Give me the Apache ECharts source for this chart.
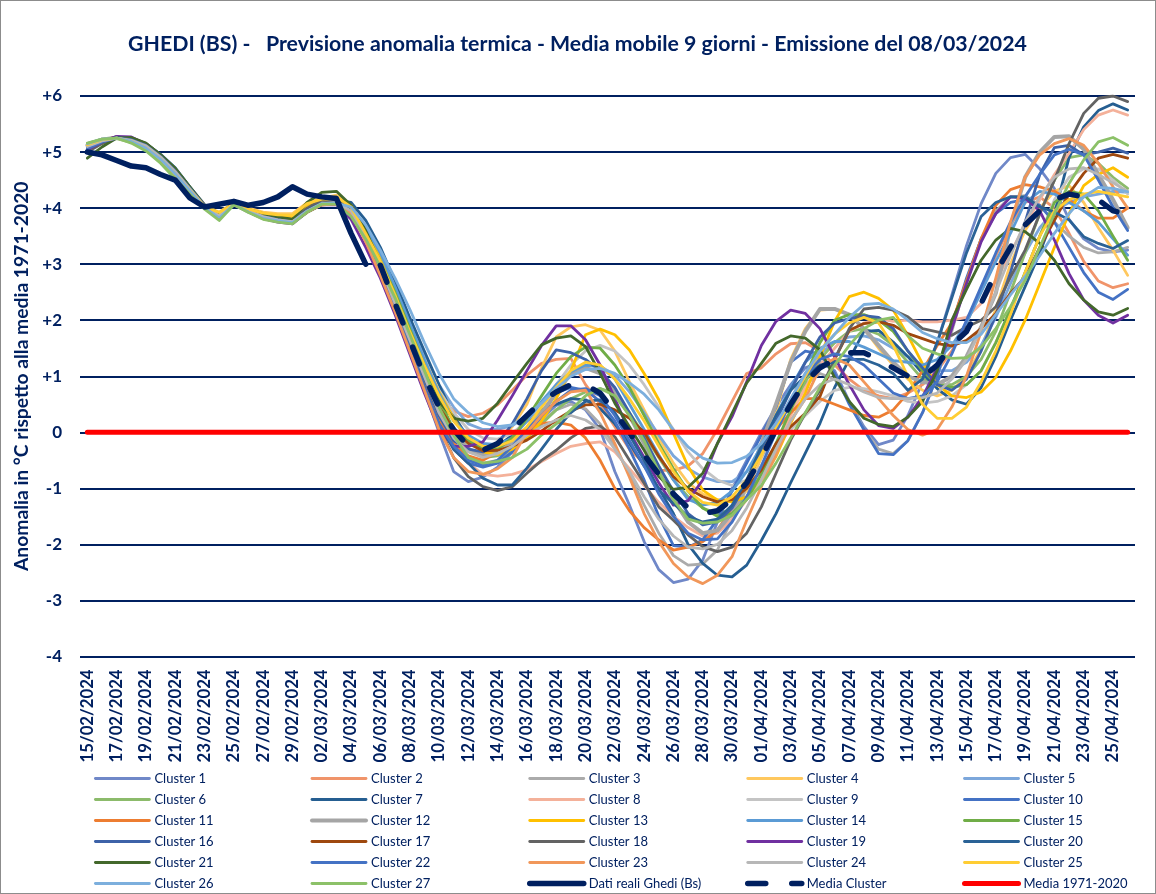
<!DOCTYPE html>
<html><head><meta charset="utf-8">
<style>html,body{margin:0;padding:0;background:#fff}#c{position:absolute;left:0;top:0;width:1156px;height:894px}
#b{position:absolute;left:0;top:0;width:1156px;height:894px;box-sizing:border-box;border:1px solid #8c8c8c;pointer-events:none}</style>
<script src="https://cdn.jsdelivr.net/npm/echarts@6/dist/echarts.min.js"></script>
</head><body><div id="c"></div><div id="b"></div>
<script>
const categories=["15/02/2024","16/02/2024","17/02/2024","18/02/2024","19/02/2024","20/02/2024","21/02/2024","22/02/2024","23/02/2024","24/02/2024","25/02/2024","26/02/2024","27/02/2024","28/02/2024","29/02/2024","01/03/2024","02/03/2024","03/03/2024","04/03/2024","05/03/2024","06/03/2024","07/03/2024","08/03/2024","09/03/2024","10/03/2024","11/03/2024","12/03/2024","13/03/2024","14/03/2024","15/03/2024","16/03/2024","17/03/2024","18/03/2024","19/03/2024","20/03/2024","21/03/2024","22/03/2024","23/03/2024","24/03/2024","25/03/2024","26/03/2024","27/03/2024","28/03/2024","29/03/2024","30/03/2024","31/03/2024","01/04/2024","02/04/2024","03/04/2024","04/04/2024","05/04/2024","06/04/2024","07/04/2024","08/04/2024","09/04/2024","10/04/2024","11/04/2024","12/04/2024","13/04/2024","14/04/2024","15/04/2024","16/04/2024","17/04/2024","18/04/2024","19/04/2024","20/04/2024","21/04/2024","22/04/2024","23/04/2024","24/04/2024","25/04/2024","26/04/2024"];
const cluster1=[5.10,5.22,5.26,5.22,5.12,4.92,4.66,4.34,4.04,3.86,4.07,3.95,3.84,3.79,3.75,3.94,4.07,4.09,
3.92,3.45,2.85,2.2,1.5,0.75,0.0,-0.7,
-0.88,-0.8,-0.62,-0.35,-0.05,0.25,0.48,0.55,0.4,0.05,
-0.7,-1.3,-1.95,-2.45,-2.68,-2.62,-2.28,-1.6,-1.0,-0.5,
0.0,0.45,0.85,1.15,1.25,1.1,0.55,0.1,-0.22,-0.14,
0.3,0.9,1.6,2.45,3.33,4.08,4.62,4.9,4.96,4.7,
4.35,3.8,3.45,3.28,3.22,3.25];
const cluster2=[5.12,5.2,5.25,5.2,5.1,4.9,4.63,4.33,4.03,3.85,4.06,3.94,3.83,3.78,3.75,3.93,4.06,4.08,
3.98,3.55,3.0,2.4,1.75,1.15,0.65,0.38,
0.28,0.34,0.49,0.75,1.02,1.23,1.3,1.32,0.85,0.5,
0.1,-0.3,-0.55,-0.68,-0.68,-0.6,-0.38,0.05,0.55,1.05,
1.15,1.4,1.58,1.6,1.45,1.2,0.95,0.75,0.65,0.6,
0.7,0.85,1.1,1.45,1.95,2.55,3.15,3.7,4.1,4.2,
4.0,3.55,3.05,2.7,2.58,2.65];
const cluster3=[5.08,5.2,5.27,5.23,5.13,4.93,4.68,4.36,4.05,3.88,4.07,3.96,3.85,3.8,3.76,3.95,4.08,4.1,
3.95,3.5,2.9,2.25,1.6,0.95,0.35,-0.2,
-0.45,-0.55,-0.5,-0.3,-0.05,0.2,0.4,0.5,0.42,0.15,
-0.25,-0.75,-1.3,-1.8,-2.2,-2.37,-2.35,-2.1,-1.55,-1.0,
-0.45,0.05,0.5,0.85,1.05,0.95,0.55,0.05,-0.3,-0.38,
-0.15,0.35,1.0,1.8,2.7,3.45,3.95,4.2,4.22,4.05,
3.75,3.5,3.3,3.2,3.22,3.3];
const cluster4=[5.14,5.22,5.26,5.18,5.06,4.86,4.6,4.32,4.03,3.93,4.09,4.0,3.93,3.9,3.9,4.1,4.18,4.23,
4.07,3.6,3.1,2.5,1.85,1.25,0.7,0.2,
-0.1,-0.3,-0.2,0.1,0.5,1.15,1.7,1.88,1.92,1.82,
1.45,0.9,0.4,-0.1,-0.55,-0.9,-1.1,-1.2,-1.2,-1.05,
-0.45,0.35,1.3,1.85,2.18,2.2,2.1,1.85,1.5,1.2,
0.95,0.75,0.65,0.75,1.0,1.5,2.2,3.0,3.6,4.0,
4.3,4.4,4.1,3.65,3.25,2.8];
const cluster5=[5.13,5.21,5.25,5.19,5.08,4.88,4.62,4.31,4.01,3.83,4.07,3.94,3.82,3.77,3.74,3.95,4.08,4.09,
3.98,3.6,3.1,2.55,1.95,1.35,0.85,0.45,
0.15,0.05,0.05,0.12,0.28,0.52,0.8,1.05,1.18,1.18,
1.02,0.72,0.35,-0.05,-0.42,-0.65,-0.8,-0.88,-0.88,-0.7,
-0.35,0.1,0.6,1.05,1.4,1.6,1.7,1.72,1.65,1.5,
1.35,1.2,1.1,1.1,1.25,1.55,2.05,2.65,3.2,3.65,
3.95,4.1,4.2,4.25,4.3,4.28];
const cluster6=[5.15,5.23,5.24,5.17,5.04,4.83,4.56,4.28,4.0,3.8,4.06,3.93,3.81,3.76,3.73,3.92,4.06,4.07,
3.9,3.5,3.0,2.4,1.8,1.15,0.5,0.0,
-0.3,-0.45,-0.42,-0.3,-0.1,0.15,0.4,0.6,0.72,0.78,
0.7,0.35,-0.05,-0.45,-0.85,-1.15,-1.35,-1.45,-1.38,-1.15,
-0.75,-0.25,0.35,0.9,1.3,1.6,1.8,1.85,1.75,1.55,
1.25,0.95,0.85,0.85,1.0,1.3,1.8,2.5,3.2,3.9,
4.5,4.9,4.95,4.8,4.55,4.35];
const cluster7=[5.06,5.18,5.26,5.24,5.15,4.96,4.72,4.38,4.06,3.9,4.08,3.97,3.87,3.82,3.78,3.97,4.1,4.14,
4.1,3.78,3.3,2.7,2.05,1.45,0.85,0.3,
-0.1,-0.3,-0.25,-0.05,0.2,0.4,0.5,0.6,0.58,0.42,
0.15,-0.2,-0.6,-1.0,-1.45,-2.0,-2.34,-2.55,-2.58,-2.37,
-1.93,-1.45,-0.9,-0.37,0.16,0.8,1.3,1.8,1.82,1.61,
1.35,1.05,0.78,0.58,0.5,0.8,1.35,2.0,2.6,3.2,
3.9,4.9,5.45,5.74,5.86,5.75];
const cluster8=[5.11,5.21,5.26,5.21,5.1,4.9,4.64,4.33,4.03,3.87,4.07,3.95,3.85,3.79,3.76,3.94,4.07,4.09,
3.98,3.5,2.95,2.3,1.65,1.0,0.3,-0.3,
-0.55,-0.75,-0.78,-0.75,-0.67,-0.52,-0.38,-0.25,-0.2,-0.17,
-0.35,-0.65,-0.95,-1.25,-1.5,-1.7,-1.85,-1.8,-1.55,-1.2,
-0.85,-0.3,0.3,0.8,1.2,1.5,1.8,1.95,2.03,1.98,
2.0,1.97,1.97,2.0,2.05,2.3,2.7,3.2,3.7,4.15,
4.6,4.98,5.4,5.66,5.75,5.66];
const cluster9=[5.14,5.23,5.25,5.2,5.09,4.89,4.63,4.32,4.02,3.84,4.07,3.96,3.86,3.81,3.77,3.96,4.09,4.12,
4.0,3.6,3.1,2.5,1.9,1.3,0.75,0.35,
0.05,-0.1,-0.12,-0.02,0.2,0.5,0.85,1.2,1.45,1.55,
1.45,1.2,0.85,0.45,0.05,-0.35,-0.65,-0.85,-0.95,-0.85,
-0.6,-0.25,0.05,0.3,0.55,0.75,0.8,0.78,0.72,0.65,
0.55,0.52,0.55,0.65,0.85,1.1,1.6,2.2,2.85,3.5,
4.15,4.55,4.7,4.7,4.5,4.25];
const cluster10=[5.09,5.2,5.26,5.22,5.11,4.91,4.65,4.34,4.04,3.85,4.07,3.95,3.84,3.78,3.75,3.94,4.07,4.08,
3.95,3.5,2.9,2.25,1.55,0.85,0.2,-0.3,
-0.55,-0.62,-0.55,-0.35,-0.05,0.3,0.7,0.8,0.75,0.55,
0.2,-0.3,-0.85,-1.5,-2.02,-2.05,-1.92,-1.55,-1.05,-0.55,
-0.05,0.45,1.25,1.45,1.4,1.05,0.5,0.05,-0.38,-0.4,
-0.15,0.35,1.0,1.9,2.75,3.45,3.9,4.1,4.15,4.05,
3.75,3.3,2.85,2.5,2.37,2.55];
const cluster11=[5.1,5.19,5.25,5.21,5.11,4.9,4.65,4.33,4.03,3.86,4.07,3.94,3.83,3.78,3.74,3.93,4.07,4.08,
3.95,3.45,2.85,2.2,1.55,0.9,0.2,-0.2,
-0.42,-0.5,-0.35,-0.15,0.05,0.16,0.18,0.13,-0.1,-0.5,
-1.0,-1.4,-1.7,-1.92,-2.1,-2.05,-1.95,-1.75,-1.35,-0.9,
-0.35,0.05,0.35,0.6,0.6,0.5,0.4,0.3,0.27,0.4,
0.7,1.1,1.55,1.95,2.7,3.45,4.05,4.33,4.42,4.38,
4.3,4.15,3.95,3.82,3.82,4.0];
const cluster12=[5.12,5.22,5.26,5.22,5.12,4.92,4.67,4.35,4.05,3.87,4.08,3.96,3.86,3.8,3.77,3.96,4.09,4.12,
4.0,3.55,3.0,2.35,1.7,1.05,0.4,0.0,
-0.3,-0.4,-0.35,-0.2,0.05,0.35,0.7,1.05,1.15,1.05,
0.75,0.3,-0.2,-0.7,-1.2,-1.6,-1.8,-1.75,-1.45,-0.95,
-0.2,0.5,1.25,1.8,2.2,2.2,2.1,1.85,1.55,1.25,
1.0,0.9,0.85,1.0,1.35,1.88,2.48,3.67,4.55,5.0,
5.27,5.28,5.05,4.6,4.15,3.65];
const cluster13=[5.13,5.21,5.25,5.19,5.07,4.87,4.61,4.31,4.03,3.9,4.08,3.97,3.89,3.86,3.85,4.05,4.15,4.18,
4.05,3.62,3.12,2.55,1.9,1.28,0.72,0.25,
-0.15,-0.35,-0.4,-0.3,-0.1,0.2,0.6,1.1,1.74,1.84,
1.74,1.47,1.05,0.58,-0.02,-0.61,-1.03,-1.21,-1.24,-1.15,
-0.85,-0.43,0.16,0.7,1.35,1.98,2.42,2.5,2.39,2.18,
1.73,1.22,0.85,0.65,0.62,0.72,0.98,1.45,2.0,2.65,
3.3,3.9,4.4,4.6,4.72,4.55];
const cluster14=[5.12,5.22,5.25,5.2,5.09,4.89,4.63,4.32,4.02,3.84,4.07,3.94,3.83,3.77,3.74,3.94,4.07,4.09,
4.0,3.65,3.2,2.6,1.95,1.3,0.7,0.2,
-0.05,-0.2,-0.22,-0.1,0.2,0.55,0.85,1.08,1.2,1.18,
0.95,0.5,0.05,-0.4,-0.85,-1.2,-1.3,-1.25,-1.05,-0.7,
-0.25,0.3,0.8,1.25,1.5,1.62,1.62,1.52,1.4,1.28,
1.25,1.2,1.3,1.55,1.95,2.5,3.05,3.55,4.1,4.3,
4.25,4.1,3.95,3.75,3.45,3.16];
const cluster15=[5.1,5.2,5.26,5.21,5.1,4.9,4.64,4.33,4.02,3.83,4.06,3.94,3.83,3.78,3.74,3.93,4.07,4.1,
3.95,3.55,3.05,2.5,1.85,1.2,0.6,0.05,
-0.15,-0.3,-0.3,-0.1,0.25,0.65,1.05,1.35,1.52,1.5,
1.2,0.8,0.3,-0.2,-0.65,-1.05,-1.35,-1.5,-1.45,-1.2,
-0.75,-0.2,0.4,1.0,1.6,2.0,2.1,2.1,2.0,1.8,
1.45,1.1,0.85,0.8,0.85,1.1,1.6,2.2,2.85,3.5,
4.1,4.3,4.25,3.95,3.5,3.07];
const cluster16=[5.08,5.19,5.26,5.23,5.13,4.93,4.67,4.35,4.04,3.86,4.07,3.95,3.85,3.8,3.76,3.95,4.08,4.1,
3.95,3.5,2.95,2.3,1.6,0.95,0.3,-0.15,
-0.3,-0.35,-0.2,0.15,0.6,1.1,1.47,1.42,1.3,1.1,
0.8,0.35,-0.1,-0.6,-1.05,-1.45,-1.65,-1.6,-1.35,-0.9,
-0.35,0.2,0.75,1.25,1.7,1.95,2.03,2.08,2.05,1.85,
1.45,1.15,0.85,0.75,0.95,1.45,2.1,2.85,3.75,4.6,
5.08,5.12,4.95,5.0,5.07,4.98];
const cluster17=[5.09,5.2,5.27,5.23,5.12,4.92,4.67,4.35,4.05,3.87,4.07,3.96,3.85,3.8,3.77,3.96,4.09,4.11,
3.98,3.55,3.0,2.35,1.7,1.05,0.45,0.05,
-0.2,-0.33,-0.32,-0.25,-0.14,0.02,0.22,0.38,0.49,0.5,
0.4,0.25,0.0,-0.43,-0.79,-1.0,-1.15,-1.24,-1.2,-1.0,
-0.67,-0.2,0.1,0.34,0.64,1.3,1.82,1.94,1.97,1.91,
1.76,1.67,1.58,1.54,1.64,1.85,2.12,2.48,2.77,3.3,
3.78,4.26,4.62,4.89,4.96,4.89];
const cluster18=[5.0,5.15,5.26,5.26,5.15,4.95,4.7,4.37,4.05,3.88,4.08,3.97,3.88,3.83,3.8,4.0,4.15,4.2,
3.95,3.5,2.9,2.2,1.5,0.8,0.1,-0.45,
-0.79,-0.97,-1.04,-0.97,-0.73,-0.5,-0.32,-0.1,0.07,0.11,
-0.08,-0.5,-0.91,-1.33,-1.57,-1.83,-2.04,-2.13,-2.05,-1.8,
-1.33,-0.73,-0.14,0.34,0.75,1.3,1.85,2.2,2.23,2.18,
2.06,1.85,1.79,1.73,1.88,2.0,2.24,2.77,3.25,3.9,
4.5,5.15,5.69,5.96,6.0,5.9];
const cluster19=[5.04,5.18,5.28,5.27,5.14,4.92,4.66,4.34,4.02,3.84,4.06,3.93,3.81,3.75,3.72,3.93,4.06,4.06,
3.8,3.3,2.75,2.1,1.4,0.7,0.05,-0.25,
-0.25,-0.17,0.22,0.65,1.1,1.55,1.9,1.9,1.65,1.2,
0.6,0.0,-0.45,-0.9,-1.3,-1.22,-0.85,-0.2,0.28,0.9,
1.55,1.98,2.18,2.12,1.85,1.34,0.85,0.4,0.12,0.07,
0.27,0.63,1.15,1.85,2.65,3.4,3.9,4.2,4.18,3.95,
3.43,2.83,2.36,2.09,1.95,2.09];
const cluster20=[5.07,5.19,5.26,5.24,5.14,4.94,4.68,4.36,4.05,3.87,4.07,3.96,3.86,3.81,3.77,3.96,4.09,4.1,
3.95,3.5,2.9,2.2,1.5,0.8,0.15,-0.3,
-0.55,-0.82,-0.94,-0.94,-0.64,-0.3,0.05,0.35,0.55,0.58,
0.35,-0.05,-0.5,-1.03,-1.27,-1.5,-1.6,-1.55,-1.3,-0.85,
-0.25,0.3,0.75,1.0,1.2,1.25,1.3,1.3,1.2,1.05,
0.75,0.95,1.6,2.4,3.2,3.85,4.1,4.2,4.2,4.02,
3.93,3.79,3.49,3.37,3.28,3.42];
const cluster21=[4.89,5.09,5.25,5.26,5.16,4.95,4.71,4.38,4.05,3.9,4.08,3.98,3.9,3.85,3.8,4.1,4.28,4.3,
4.05,3.6,3.0,2.35,1.7,1.05,0.55,0.25,
0.2,0.25,0.52,0.88,1.23,1.56,1.68,1.72,1.53,1.05,
0.52,0.1,-0.32,-0.79,-1.02,-0.98,-0.73,-0.2,0.34,0.88,
1.23,1.59,1.72,1.68,1.47,0.98,0.55,0.25,0.14,0.1,
0.27,0.55,1.1,2.0,2.55,3.07,3.43,3.64,3.58,3.37,
3.07,2.65,2.36,2.15,2.09,2.21];
const cluster22=[5.06,5.18,5.25,5.22,5.12,4.92,4.66,4.35,4.04,3.86,4.07,3.95,3.84,3.79,3.75,3.94,4.07,4.08,
3.9,3.45,2.85,2.2,1.5,0.8,0.15,-0.25,
-0.5,-0.58,-0.5,-0.25,0.05,0.3,0.55,0.75,0.78,0.65,
0.3,-0.15,-0.6,-1.1,-1.5,-1.8,-1.92,-1.9,-1.6,-1.15,
-0.6,0.0,0.55,1.0,1.3,1.4,1.35,1.2,0.95,0.7,
0.6,0.65,0.9,1.4,2.0,2.6,3.2,3.75,4.2,4.6,
4.95,5.05,4.95,4.5,4.02,3.6];
const cluster23=[5.11,5.21,5.25,5.2,5.1,4.9,4.64,4.33,4.03,3.85,4.06,3.94,3.83,3.78,3.75,3.93,4.06,4.07,
3.9,3.4,2.8,2.15,1.45,0.75,0.05,-0.45,
-0.7,-0.75,-0.65,-0.45,0.0,0.3,0.55,0.72,0.75,0.35,
-0.2,-0.8,-1.45,-1.95,-2.34,-2.58,-2.7,-2.55,-2.22,-1.57,
-0.97,-0.4,0.2,0.6,1.15,1.32,1.2,0.9,0.6,0.3,
0.05,-0.05,0.05,0.45,1.0,1.8,2.75,3.75,4.55,4.95,
5.15,5.24,5.12,4.8,4.38,4.0];
const cluster24=[5.1,5.2,5.25,5.21,5.11,4.91,4.65,4.34,4.03,3.86,4.07,3.95,3.85,3.79,3.76,3.95,4.08,4.1,
3.95,3.5,2.95,2.3,1.65,1.0,0.35,-0.1,
-0.35,-0.45,-0.38,-0.25,-0.05,0.1,0.22,0.3,0.22,0.05,
-0.3,-0.7,-1.15,-1.55,-1.85,-2.05,-2.08,-2.0,-1.75,-1.35,
-0.85,-0.3,0.2,0.6,0.85,0.95,0.85,0.72,0.62,0.6,
0.6,0.62,0.7,0.95,1.3,1.85,2.5,3.15,3.75,4.2,
4.55,4.7,4.72,4.6,4.45,4.3];
const cluster25=[5.13,5.22,5.25,5.19,5.07,4.87,4.61,4.32,4.03,3.92,4.08,3.98,3.91,3.88,3.87,4.08,4.16,4.2,
4.02,3.55,3.05,2.45,1.8,1.2,0.65,0.2,
-0.1,-0.25,-0.25,-0.15,0.1,0.45,0.8,1.1,1.25,1.2,
0.95,0.6,0.2,-0.25,-0.7,-1.05,-1.25,-1.3,-1.15,-0.85,
-0.4,0.1,0.55,1.0,1.45,1.75,1.95,2.05,1.95,1.55,
1.0,0.5,0.25,0.25,0.45,0.9,1.45,2.1,2.85,3.5,
3.95,4.15,4.25,4.3,4.25,4.2];
const cluster26=[5.15,5.23,5.25,5.19,5.07,4.87,4.61,4.31,4.01,3.82,4.07,3.93,3.82,3.77,3.74,3.94,4.08,4.09,
4.02,3.7,3.25,2.75,2.2,1.6,1.05,0.6,
0.35,0.17,0.1,0.13,0.3,0.52,0.78,1.0,1.12,1.14,
1.05,0.88,0.68,0.4,0.04,-0.26,-0.46,-0.55,-0.54,-0.43,
-0.2,0.16,0.58,1.05,1.45,1.75,2.05,2.28,2.3,2.2,
2.0,1.78,1.67,1.6,1.6,1.75,2.1,2.45,2.78,3.15,
3.55,3.9,4.2,4.37,4.35,4.29];
const cluster27=[5.16,5.23,5.25,5.16,5.02,4.8,4.52,4.25,3.98,3.78,4.06,3.92,3.8,3.75,3.72,3.93,4.07,4.07,
3.85,3.45,2.95,2.4,1.75,1.1,0.45,-0.05,
-0.45,-0.55,-0.52,-0.45,-0.3,-0.05,0.15,0.4,0.65,0.78,
0.65,0.3,-0.15,-0.7,-1.2,-1.55,-1.62,-1.6,-1.48,-1.2,
-0.95,-0.55,-0.1,0.35,0.8,1.2,1.55,1.85,2.0,2.05,
1.72,1.5,1.4,1.32,1.33,1.52,1.85,2.24,2.71,3.3,
3.9,4.44,4.86,5.18,5.26,5.12];
const realData=[5.0,4.95,4.85,4.75,4.72,4.6,4.5,4.18,4.02,4.07,4.12,4.05,4.1,4.2,4.38,4.25,4.2,4.17,3.55,3.0,
null,null,null,null,null,null,null,null,null,null,null,null,null,null,null,null,null,null,null,null,null,null,null,null,null,null,null,null,null,null,null,null,null,null,null,null,null,null,null,null,null,null,null,null,null,null,null,null,null,null,null,null];
const mediaCluster=[null,null,null,null,null,null,null,null,null,null,null,null,null,null,null,null,null,null,null,null,
2.98,2.3,1.65,1.0,0.45,0.05,-0.25,-0.32,-0.2,0.05,0.3,0.55,0.72,0.85,0.85,0.7,0.35,0.0,-0.4,-0.75,-1.1,-1.35,-1.45,-1.4,-1.2,-0.9,-0.45,0.05,0.5,0.9,1.15,1.3,1.42,1.42,1.3,1.15,1.0,0.98,1.2,1.55,1.8,2.3,2.85,3.3,3.7,3.95,4.15,4.25,4.2,4.15,3.95,3.9];
const media7120=[0,0,0,0,0,0,0,0,0,0,0,0,0,0,0,0,0,0,0,0,0,0,0,0,0,0,0,0,0,0,0,0,0,0,0,0,0,0,0,0,0,0,0,0,0,0,0,0,0,0,0,0,0,0,0,0,0,0,0,0,0,0,0,0,0,0,0,0,0,0,0,0];
const clusterData=[cluster1,cluster2,cluster3,cluster4,cluster5,cluster6,cluster7,cluster8,cluster9,cluster10,cluster11,cluster12,cluster13,cluster14,cluster15,cluster16,cluster17,cluster18,cluster19,cluster20,cluster21,cluster22,cluster23,cluster24,cluster25,cluster26,cluster27];
const clusterColors=["#7088C8","#F0946A","#ABABAB","#FFC85E","#7CA7DB","#8CBB6B","#255E91","#F4B19A","#C4C4C4","#4472C4","#ED7D31","#A5A5A5","#FFC000","#5B9BD5","#70AD47","#3D62A8","#9E480E","#636363","#7030A0","#2A6296","#43682B","#4472C4","#F1975A","#B7B7B7","#FFCD33","#7CAFDD","#8CC168"];
const titleText="GHEDI (BS) -   Previsione anomalia termica - Media mobile 9 giorni - Emissione del 08/03/2024";
const yTitle="Anomalia in °C rispetto alla media 1971-2020";
const navy="#002060";
const FONT="Lato";
const series=clusterData.map((d,i)=>({name:"Cluster "+(i+1),type:"line",data:d,showSymbol:false,symbol:"none",
  lineStyle:{color:clusterColors[i],width:i===11?4:2.8,cap:"round",join:"round"},itemStyle:{color:clusterColors[i]},z:2,silent:true}));
series.push({name:"Dati reali Ghedi (Bs)",type:"line",data:realData,showSymbol:false,symbol:"none",lineStyle:{color:navy,width:5.5,cap:"round",join:"round"},itemStyle:{color:navy},z:3,silent:true});
series.push({name:"Media Cluster",type:"line",data:mediaCluster,showSymbol:false,symbol:"none",lineStyle:{color:navy,width:5.5,type:[18,26],cap:"round",join:"round"},itemStyle:{color:navy},z:3,silent:true});
series.push({name:"Media 1971-2020",type:"line",data:media7120,showSymbol:false,symbol:"none",lineStyle:{color:"#FF0000",width:5,cap:"round"},itemStyle:{color:"#FF0000"},z:4,silent:true});
const names=series.map(s=>s.name);
const colLeft=[94,310,527,745,962];
const legends=colLeft.map((x,c)=>({left:x,top:772,padding:0,orient:"vertical",itemWidth:54,itemHeight:14,itemGap:8,selectedMode:false,
  itemStyle:{opacity:0},lineStyle:{width:"inherit",cap:"round"},
  data:names.filter((n,k)=>k%5===c),textStyle:{color:navy,fontFamily:FONT,fontSize:13}}));
const chart=echarts.init(document.getElementById("c"),null,{renderer:"canvas",width:1156,height:894});
chart.setOption({animation:false,backgroundColor:"#fff",
 title:{text:titleText,left:572.5,textAlign:"center",top:29,textStyle:{color:navy,fontFamily:FONT,fontWeight:"bold",fontSize:21.3}},
 legend:legends,
 grid:{left:80,right:21,top:96,bottom:237.5,containLabel:false},
 xAxis:{type:"category",data:categories,boundaryGap:true,axisTick:{show:false},axisLine:{show:false},
  axisLabel:{interval:1,rotate:90,margin:13,color:navy,fontFamily:FONT,fontWeight:"bold",fontSize:16.7}},
 yAxis:{type:"value",min:-4,max:6,interval:1,name:yTitle,nameLocation:"middle",nameGap:40,nameRotate:90,
  nameTextStyle:{color:navy,fontFamily:FONT,fontWeight:"bold",fontSize:19.3},
  axisLine:{show:false},axisTick:{show:false},
  axisLabel:{margin:18,color:navy,fontFamily:FONT,fontWeight:"bold",fontSize:17,formatter:v=>v>0?"+"+v:String(v)},
  splitLine:{show:true,lineStyle:{color:navy,width:2}}},
 series:series});
</script></body></html>
